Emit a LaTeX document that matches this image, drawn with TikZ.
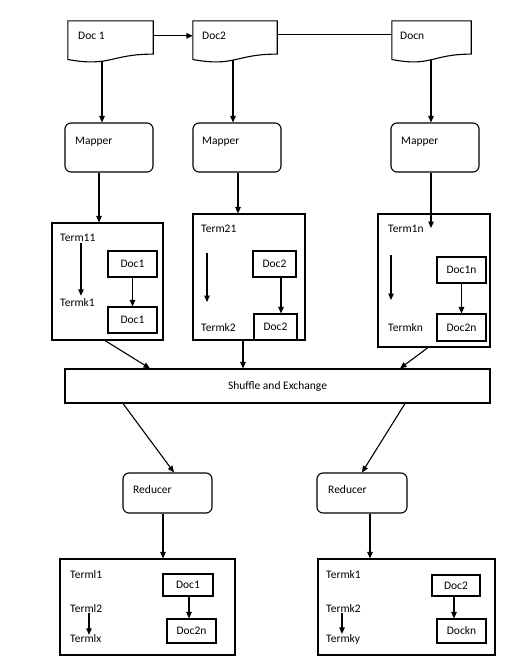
\documentclass[tikz,border=0pt]{standalone}
\usepackage{fontspec}
\setmainfont{Carlito}
\usetikzlibrary{arrows.meta,fit,calc}
\tikzset{
  ln/.style={line width=1.1pt, draw=black},
  arr/.style={ln, -{Triangle[length=6.5pt,width=5.5pt]}},
  bx/.style={draw, line width=1.1pt, inner sep=0pt},
  rbx/.style={bx, rounded corners=6pt},
  ghost/.style={inner sep=0pt},
  lbl/.style={anchor=west, inner sep=0pt, font=\fontsize{11.5}{13}\selectfont},
  ctr/.style={inner sep=0pt, font=\fontsize{11.5}{13}\selectfont},
}
\begin{document}
\begin{tikzpicture}[x=1pt,y=-1pt]
\useasboundingbox[fill=white] (0,0) rectangle (524,670);

% ---------- documents ----------
\node[ghost, fit={(68,21) (153,62)}] (d1) {};
\node[ghost, fit={(193,21) (277,62)}] (d2) {};
\node[ghost, fit={(392,21) (471,62)}] (dn) {};
\foreach \d in {d1,d2,dn}{
  \draw[ln] (\d.north west) -- (\d.north east) -- ([yshift=8.1pt]\d.south east)
    .. controls ([yshift=8.1pt]\d.south) and ([yshift=-5pt]\d.south) .. ([yshift=2.7pt]\d.south west) -- cycle;
}
\node[lbl] (d1t) at (78,36) {Doc 1};
\node[lbl] (d2t) at (202,36) {Doc2};
\node[lbl] (dnt) at (400,36) {Docn};

\draw[arr] ([yshift=-15pt]d1.north east) -- ([yshift=-15pt]d2.north west);
\draw[ln] ([yshift=-14pt]d2.north east) -- ([yshift=-14pt]dn.north west);

% ---------- mappers ----------
\node[rbx, fit={(65,123) (153,172)}] (m1) {};
\node[rbx, fit={(193,123) (281,172)}] (m2) {};
\node[rbx, fit={(391,123) (479,172)}] (m3) {};
\node[lbl] (m1t) at (75,142) {Mapper};
\node[lbl] (m2t) at (202,142) {Mapper};
\node[lbl] (m3t) at (401,142) {Mapper};

\coordinate (a1) at (102,0);
\coordinate (a2) at (233,0);
\coordinate (a3) at (431,0);
\draw[arr] ([yshift=1pt]d1.south -| a1) -- (m1.north -| a1);
\draw[arr] ([yshift=2pt]d2.south -| a2) -- (m2.north -| a2);
\draw[arr] ([yshift=2pt]dn.south -| a3) -- (m3.north -| a3);

% ---------- term boxes ----------
\node[bx, fit={(52,223) (163,340)}] (t1) {};
\node[bx, fit={(193,214) (305,340)}] (t2) {};
\node[bx, fit={(378,214) (490,347)}] (t3) {};

\coordinate (b1) at (99,0);
\coordinate (b2) at (238,0);
\coordinate (e3) at (431,228);
\draw[arr] (m1.south -| b1) -- (t1.north -| b1);
\draw[arr] (m2.south -| b2) -- (t2.north -| b2);
\draw[arr] (m3.south -| e3) -- (e3);

% box 1
\node[lbl] (t11) at (60,238) {Term11};
\node[lbl] (tk1) at (60,303) {Termk1};
\coordinate (c1) at (81,0);
\draw[arr] ([yshift=-1pt]t11.south -| c1) -- ([yshift=3pt]tk1.north -| c1);
\node[bx, fit={(108,251) (157,277)}] (i11) {};
\node[bx, fit={(108,307) (157,333)}] (i12) {};
\node[ctr] at (i11.center) {Doc1};
\node[ctr] at (i12.center) {Doc1};
\draw[arr] (i11.south) -- (i12.north);

% box 2
\node[lbl] (t21) at (201,229) {Term21};
\node[lbl] (tk2) at (201,328) {Termk2};
\coordinate (s2) at (207,253);
\coordinate (f2) at (207,302);
\draw[arr] (s2) -- (f2);
\node[bx, fit={(253,251) (296,277)}] (i21) {};
\node[bx, fit={(254,314) (297,340)}] (i22) {};
\node[ctr] at (i21.center) {Doc2};
\node[ctr] at (i22.center) {Doc2};
\coordinate (c22) at (281,0);
\draw[arr] (i21.south -| c22) -- (i22.north -| c22);

% box 3
\node[lbl] (t31) at (388,229) {Term1n};
\node[lbl] (tk3) at (388,328) {Termkn};
\coordinate (s3) at (391,255);
\coordinate (f3) at (391,300);
\draw[arr] (s3) -- (f3);
\node[bx, fit={(437,257) (486,283)}] (i31) {};
\node[bx, fit={(437,314) (486,341)}] (i32) {};
\node[ctr] at (i31.center) {Doc1n};
\node[ctr] at (i32.center) {Doc2n};
\draw[arr] (i31.south) -- (i32.north);

% ---------- shuffle ----------
\node[bx, fit={(65,369) (490,403)}] (sh) {};
\node[ctr] (sht) at (sh.center) {Shuffle and Exchange};

\coordinate (g1) at (105,0); \coordinate (h1) at (150,0);
\coordinate (g2) at (243,0);
\coordinate (g3) at (428,0); \coordinate (h3) at (400,0);
\draw[arr] (t1.south -| g1) -- (sh.north -| h1);
\draw[arr] (t2.south -| g2) -- (sh.north -| g2);
\draw[arr] (t3.south -| g3) -- (sh.north -| h3);

% ---------- reducers ----------
\node[rbx, fit={(123,473) (212,513)}] (r1) {};
\node[rbx, fit={(317,473) (407,513)}] (r2) {};
\node[lbl] (r1t) at (133,490) {Reducer};
\node[lbl] (r2t) at (328,490) {Reducer};

\coordinate (k1) at (123,0); \coordinate (n1) at (174,0);
\coordinate (k2) at (405,0); \coordinate (n2) at (362,0);
\draw[arr] (sh.south -| k1) -- (r1.north -| n1);
\draw[arr] (sh.south -| k2) -- (r2.north -| n2);

% ---------- lower boxes ----------
\node[bx, fit={(60,559) (235,655)}] (l1) {};
\node[bx, fit={(318,559) (495,655)}] (l2) {};
\coordinate (p1) at (163,0);
\coordinate (p2) at (370,0);
\draw[arr] (r1.south -| p1) -- (l1.north -| p1);
\draw[arr] (r2.south -| p2) -- (l2.north -| p2);

% lower box 1
\node[lbl] (u11) at (70,575) {Terml1};
\node[lbl] (u12) at (70,609) {Terml2};
\node[lbl] (u1x) at (70,639) {Termlx};
\coordinate (q1) at (89,0);
\draw[arr] (u12.south -| q1) -- (u1x.north -| q1);
\node[bx, fit={(163,574) (213,596)}] (j11) {};
\node[bx, fit={(167,619) (216,643)}] (j12) {};
\node[ctr] at (j11.center) {Doc1};
\node[ctr] at (j12.center) {Doc2n};
\coordinate (w1) at (189,0);
\draw[arr] (j11.south -| w1) -- (j12.north -| w1);

% lower box 2
\node[lbl] (u21) at (326,575) {Termk1};
\node[lbl] (u22) at (326,609) {Termk2};
\node[lbl] (u2y) at (326,639) {Termky};
\coordinate (q2) at (342,0);
\draw[arr] (u22.south -| q2) -- (u2y.north -| q2);
\node[bx, fit={(432,575) (480,596)}] (j21) {};
\node[bx, fit={(437,619) (486,643)}] (j22) {};
\node[ctr] at (j21.center) {Doc2};
\node[ctr] at (j22.center) {Dockn};
\coordinate (w2) at (454,0);
\draw[arr] (j21.south -| w2) -- (j22.north -| w2);
\end{tikzpicture}
\end{document}
